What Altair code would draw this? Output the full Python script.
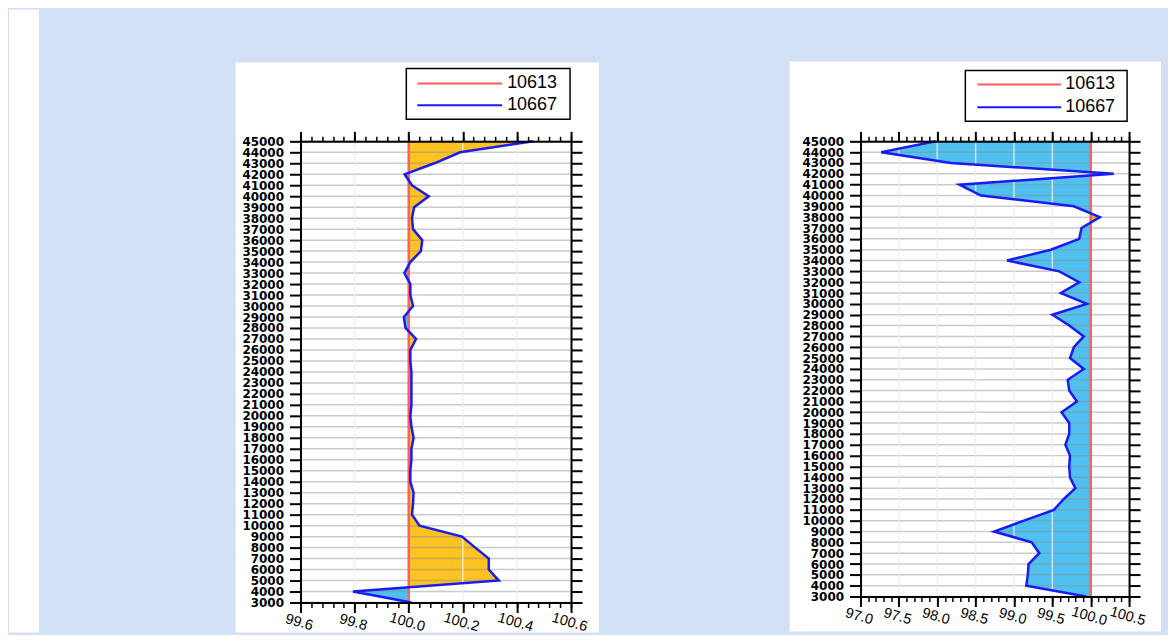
import altair as alt
import numpy as np
import pandas as pd

# ---------------- data ----------------
heights = list(range(3000, 46000, 1000))

left_values = [
    100.01, 99.794, 100.333, 100.296, 100.296, 100.246, 100.197, 100.04, 100.012, 100.016,
    100.018, 100.006, 100.006, 100.01, 100.01, 100.018, 100.01, 100.006, 100.01, 100.01,
    100.01, 100.01, 100.006, 100.006, 100.027, 99.988, 99.982, 100.016, 100.006, 100.006,
    99.984, 100.006, 100.045, 100.05, 100.016, 100.012, 100.02, 100.074, 100.012, 99.985,
    100.095, 100.19, 100.46,
]

right_values = [
    99.94, 99.16, 99.18, 99.19, 99.33, 99.23, 98.74, 99.13, 99.52, 99.65,
    99.80, 99.73, 99.72, 99.73, 99.67, 99.72, 99.72, 99.62, 99.82, 99.72,
    99.70, 99.91, 99.73, 99.78, 99.91, 99.72, 99.50, 99.95, 99.61, 99.85,
    99.59, 98.91, 99.48, 99.85, 99.88, 100.12, 99.78, 98.57, 98.29, 100.30,
    98.18, 97.27, 97.98,
]

series_names = ["10613", "10667"]
series_colors = ["#ff5c5c", "#1a1af2"]
reference_value = 100.0

left_domain = [99.6, 100.6]
left_major = [99.6, 99.8, 100.0, 100.2, 100.4, 100.6]
left_minor_step = 0.04

right_domain = [97.0, 100.5]
right_major = [97.0, 97.5, 98.0, 98.5, 99.0, 99.5, 100.0, 100.5]
right_minor_step = 0.1

ORANGE = "#fdc322"
SKY = "#50c0f0"
BG = "#d2e0f5"


def fill_frame(vals):
    rows = []
    for i, (hh, v) in enumerate(zip(heights, vals)):
        if i > 0:
            h0, v0 = heights[i - 1], vals[i - 1]
            if (v0 - reference_value) * (v - reference_value) < 0:
                t = (reference_value - v0) / (v - v0)
                rows.append((h0 + t * (hh - h0), reference_value))
        rows.append((hh, v))
    df = pd.DataFrame(rows, columns=["h", "v"])
    df["pos"] = np.maximum(df["v"], reference_value)
    df["neg"] = np.minimum(df["v"], reference_value)
    df["base"] = reference_value
    return df


def minor_ticks(domain, step):
    n = int(round((domain[1] - domain[0]) / step))
    return [round(domain[0] + i * step, 4) for i in range(n + 1)]


def axis(orient, values, size, labels=False, domain=True, width=2.0, **kw):
    return alt.Axis(
        orient=orient, values=values, tickSize=size, tickWidth=width, tickColor="black",
        labels=labels, domain=domain, domainColor="black", domainWidth=2,
        grid=False, zindex=1, title=None, **kw
    )


def panel(vals, domain, majors, minor_step, w, h, box, legend, strip=None):
    xs = alt.Scale(domain=domain, nice=False, zero=False)
    ys = alt.Scale(domain=[heights[0], heights[-1]], nice=False, zero=False)
    fd = fill_frame(vals)
    ld = pd.DataFrame({"h": heights, "v": vals, "base": [reference_value] * len(heights)})
    minors = minor_ticks(domain, minor_step)
    deco = pd.DataFrame({"k": [0]})

    x_label_kw = dict(
        format=".1f", labelAngle=16, labelAlign="center", labelBaseline="top",
        labelPadding=3, labelFont="Liberation Sans", labelFontSize=14.5,
        labelColor="black", labelOverlap=False, labelFlush=False,
    )
    y_label_kw = dict(
        format="d", labelFont="DejaVu Sans", labelFontWeight="bold", labelFontSize=12,
        labelColor="black", labelPadding=6, labelOverlap=False, labelFlush=False,
    )

    layers = []
    if strip is not None:
        layers.append(
            alt.Chart(deco).mark_rect(color="white").encode(
                x=alt.value(strip[0]), x2=alt.value(strip[1]),
                y=alt.value(strip[2]), y2=alt.value(strip[3]))
        )
    layers.append(
        alt.Chart(deco).mark_rect(color="white").encode(
            x=alt.value(box[0]), x2=alt.value(box[1]),
            y=alt.value(box[2]), y2=alt.value(box[3]))
    )
    # legend box
    lb = legend["box"]
    layers.append(
        alt.Chart(deco).mark_rect(fill="white", stroke="black", strokeWidth=1.5).encode(
            x=alt.value(lb[0]), x2=alt.value(lb[1]), y=alt.value(lb[2]), y2=alt.value(lb[3]))
    )
    for name, col, ly in zip(series_names, series_colors, legend["ys"]):
        ldf = pd.DataFrame({"name": [name]})
        layers.append(
            alt.Chart(ldf).mark_rule(color=col, strokeWidth=2).encode(
                x=alt.value(legend["x0"]), x2=alt.value(legend["x1"]), y=alt.value(ly))
        )
        layers.append(
            alt.Chart(ldf).mark_text(align="left", baseline="middle", font="Liberation Sans",
                                     fontSize=18, color="black").encode(
                x=alt.value(legend["xt"]), y=alt.value(ly), text="name:N")
        )
    # fills
    layers.append(
        alt.Chart(fd).mark_area(orient="horizontal", color=ORANGE).encode(
            x=alt.X("pos:Q", scale=xs, axis=axis("bottom", majors, 10, labels=True, **x_label_kw)),
            x2="base:Q",
            y=alt.Y("h:Q", scale=ys, axis=axis("left", heights, 11, labels=True, **y_label_kw)),
        )
    )
    layers.append(
        alt.Chart(fd).mark_area(orient="horizontal", color=SKY).encode(
            x=alt.X("neg:Q", scale=xs, axis=axis("bottom", minors, 5, domain=False, width=1.5)),
            x2="base:Q",
            y=alt.Y("h:Q", scale=ys, axis=axis("right", heights, 11)),
        )
    )
    # grid lines
    layers.append(
        alt.Chart(pd.DataFrame({"h": heights})).mark_rule(
            color="#8c8c8c", opacity=0.45, strokeWidth=1.5).encode(
            y=alt.Y("h:Q", scale=ys, axis=None), x=alt.value(0), x2=alt.value(w))
    )
    layers.append(
        alt.Chart(pd.DataFrame({"t": majors})).mark_rule(
            color="#ededed", opacity=0.8, strokeWidth=1.5).encode(
            x=alt.X("t:Q", scale=xs, axis=None), y=alt.value(0), y2=alt.value(h))
    )
    # lines
    layers.append(
        alt.Chart(ld).mark_line(color=series_colors[0], strokeWidth=2.5, orient="horizontal").encode(
            x=alt.X("base:Q", scale=xs, axis=axis("top", majors, 10)),
            y=alt.Y("h:Q", scale=ys, axis=None),
            order="h:Q",
        )
    )
    layers.append(
        alt.Chart(ld).mark_line(color=series_colors[1], strokeWidth=2.5, orient="horizontal").encode(
            x=alt.X("v:Q", scale=xs, axis=axis("top", minors, 5, domain=False, width=1.5)),
            y=alt.Y("h:Q", scale=ys, axis=None),
            order="h:Q",
        )
    )
    return alt.layer(*layers).resolve_axis(x="independent", y="independent").properties(
        width=w, height=h)


left = panel(
    left_values, left_domain, left_major, left_minor_step, 271, 462,
    box=(-65, 299, -79, 492),
    legend={"box": (106, 270, -73, -22), "x0": 117, "x1": 202, "xt": 207, "ys": (-58, -36)},
    strip=(-292, -262, -132, 492),
)
right = panel(
    right_values, right_domain, right_major, right_minor_step, 269, 456,
    box=(-71, 301, -80, 491),
    legend={"box": (105, 267, -71, -20), "x0": 117, "x1": 201, "xt": 205, "ys": (-57, -34)},
)

chart = alt.hconcat(left, right, spacing=290, bounds="flush").properties(
    padding={"left": 0, "top": 0, "right": 6, "bottom": 0},
    background=BG,
).configure_view(stroke="transparent")

chart.save("out.html", embed_options={"renderer": "svg", "actions": False})
